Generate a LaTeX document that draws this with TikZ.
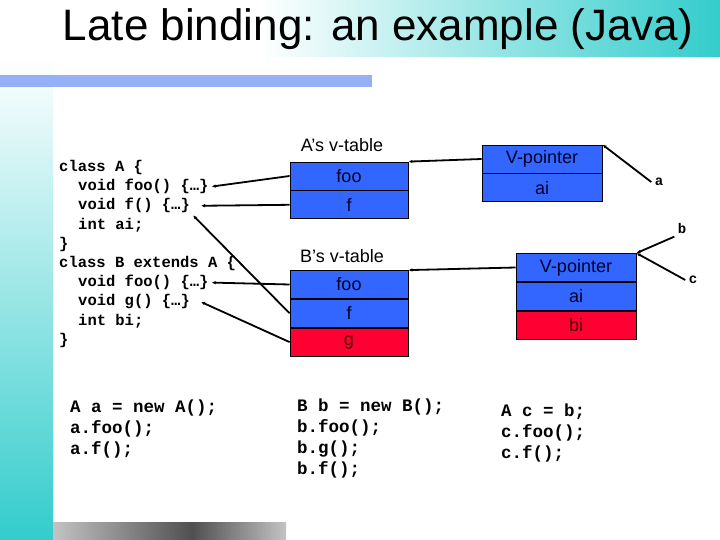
\documentclass[tikz,border=0pt]{standalone}
\usepackage{fontspec}
\setmainfont{Liberation Sans}
\setmonofont{Liberation Mono}
\usetikzlibrary{arrows.meta,positioning}
\definecolor{SlideTeal}{RGB}{51,204,204}
\definecolor{BarBlue}{RGB}{150,176,245}
\definecolor{CellBlue}{RGB}{51,102,255}
\definecolor{CellRed}{RGB}{255,0,51}
\definecolor{CellInk}{RGB}{0,0,40}
\definecolor{RedInk}{RGB}{80,0,0}
\definecolor{BarGray}{RGB}{195,195,195}
\definecolor{BarDark}{RGB}{80,80,80}
\newcommand{\codesize}{\fontsize{15.5}{19}\selectfont\ttfamily\bfseries}

\begin{document}
\begin{tikzpicture}[x=1pt,y=-1pt,>={Latex[length=4pt,width=3.5pt]},
  cell/.style={draw=black,line width=0.8pt,fill=CellBlue,text=CellInk,minimum width=118pt,minimum height=28pt,inner sep=0pt,font=\fontsize{18}{20}\selectfont},
  redcell/.style={cell,fill=CellRed,text=RedInk},
  code/.style={anchor=base west,inner xsep=3pt,inner ysep=2pt,font=\codesize},
  call/.style={anchor=base west,inner sep=0pt,font=\fontsize{17.5}{21}\selectfont\ttfamily\bfseries},
  link/.style={->,line width=1.8pt}]
\useasboundingbox (0,0) rectangle (720,540);
% slide background
\shade[left color=white,right color=SlideTeal] (260,0) rectangle (720,57);
\shade[top color=white,bottom color=SlideTeal] (0,57) rectangle (53,540);
\fill[BarBlue] (0,75) rectangle (372,87);
\shade[left color=BarGray,right color=BarDark] (53,522) rectangle (192,540);
\shade[left color=BarDark,right color=BarGray] (192,522) rectangle (286,540);
\node[font=\fontsize{44}{48}\selectfont] (title) at (378,29) {Late binding: an example (Java)};

% class code
\node[code] (codeA1) at (56,171.5) {class A \{};
\node[code] (codeA2) at (75,190.7) {void foo() \{…\}};
\node[code] (codeA3) at (75,209.9) {void f() \{…\}};
\node[code] (codeA4) at (75,229.1) {int ai;};
\node[code] (codeA5) at (56,248.3) {\}};
\node[code] (codeB1) at (56,267.5) {class B extends A \{};
\node[code] (codeB2) at (75,286.7) {void foo() \{…\}};
\node[code] (codeB3) at (75,305.9) {void g() \{…\}};
\node[code] (codeB4) at (75,325.1) {int bi;};
\node[code] (codeB5) at (56,344.3) {\}};

% v-tables
\node[font=\fontsize{18}{20}\selectfont] (tabA) at (342,145) {A’s v-table};
\node[cell] (fooA) at (349,176) {foo};
\node[cell,below=0pt of fooA] (fA) {f};
\node[font=\fontsize{18}{20}\selectfont] (tabB) at (342,256) {B’s v-table};
\node[cell] (fooB) at (349,284.5) {foo};
\node[cell,below=0pt of fooB] (fB) {f};
\node[redcell,below=0pt of fB] (gB) {g};

% objects
\node[cell,minimum width=120pt] (vpA) at (542,159) {V-pointer};
\node[cell,minimum width=120pt,below=0pt of vpA] (aiA) {ai};
\node[cell,minimum width=120pt] (vpB) at (576,267.5) {V-pointer};
\node[cell,minimum width=120pt,below=0pt of vpB] (aiB) {ai};
\node[redcell,minimum width=120pt,below=0pt of aiB] (biB) {bi};

% variables
\node[font=\fontsize{14}{16}\selectfont\ttfamily\bfseries] (varA) at (659,182) {a};
\node[font=\fontsize{14}{16}\selectfont\ttfamily\bfseries] (varB) at (682,228) {b};
\node[font=\fontsize{14}{16}\selectfont\ttfamily\bfseries] (varC) at (693,280) {c};

% calls
\node[call] (callA1) at (70,412) {A a = new A();};
\node[call] (callA2) at (70,433) {a.foo();};
\node[call] (callA3) at (70,454) {a.f();};
\node[call] (callB1) at (297,411) {B b = new B();};
\node[call] (callB2) at (297,432) {b.foo();};
\node[call] (callB3) at (297,453) {b.g();};
\node[call] (callB4) at (297,474) {b.f();};
\node[call] (callC1) at (501,416) {A c = b;};
\node[call] (callC2) at (501,437) {c.foo();};
\node[call] (callC3) at (501,458) {c.f();};

% pointers
\draw[link] (fooA.west) -- (codeA2.east);
\draw[link] (fA.west) -- ([xshift=8pt]codeA3.east);
\draw[link] (fooB.west) -- (codeB2.east);
\draw[link] (fB.west) -- (codeA3.south east);
\draw[link] (gB.west) -- ([xshift=8pt]codeB3.east);
\draw[link] (vpA.west) -- (fooA.north east);
\draw[link] (vpB.west) -- (fooB.north east);
\draw[link] (varA.west) -- (vpA.north east);
\draw[link] (varB.south west) -- (vpB.north east);
\draw[link] (varC.west) -- (vpB.north east);
\end{tikzpicture}
\end{document}
